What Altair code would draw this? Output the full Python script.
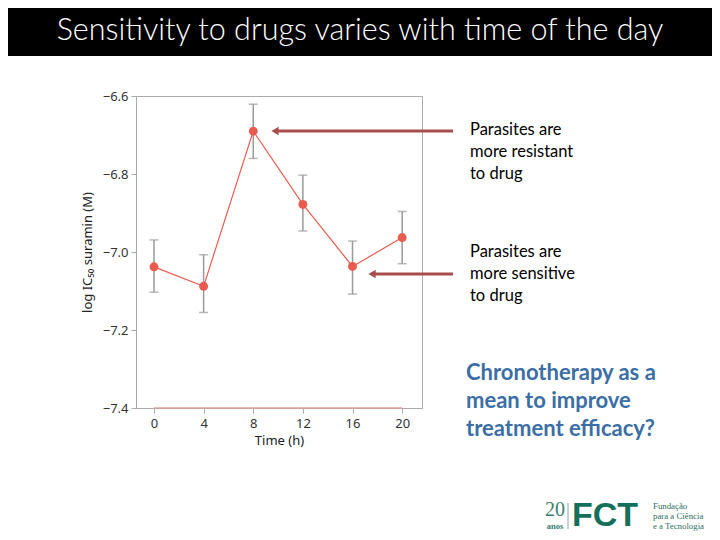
import altair as alt
import pandas as pd

# ---- data ----
hours = [0, 4, 8, 12, 16, 20]
ic50 = [-7.038, -7.088, -6.690, -6.878, -7.037, -6.963]
err_hi = [-6.969, -7.007, -6.621, -6.803, -6.972, -6.896]
err_lo = [-7.103, -7.155, -6.760, -6.946, -7.108, -7.030]
x_ticks = [0, 4, 8, 12, 16, 20]
y_ticks = [-7.4, -7.2, -7.0, -6.8, -6.6]
base_span = [0, 20]
base_level = -7.4

title_text = "Sensitivity to drugs varies with time of the day"
note_resistant = ["Parasites are", "more resistant", "to drug"]
note_sensitive = ["Parasites are", "more sensitive", "to drug"]
note_question = ["Chronotherapy as a", "mean to improve", "treatment efficacy?"]
logo_num = "20"
logo_anos = "anos"
logo_fct = "FCT"
logo_lines = ["Fundação", "para a Ciência", "e a Tecnologia"]

df = pd.DataFrame({"t": hours, "v": ic50, "hi": err_hi, "lo": err_lo})
base_df = pd.DataFrame({"a": [base_span[0]], "b": [base_span[1]], "y": [base_level]})
one = pd.DataFrame({"k": [0]})

W, H = 286, 312
red = "#E95B4E"
arrow_col = "#A54E4B"

xs = alt.Scale(domain=[-1.45, 21.6], nice=False, zero=False)
ys = alt.Scale(domain=[-7.4, -6.6], nice=False, zero=False)

x_axis = alt.Axis(values=x_ticks, title="Time (h)", grid=False, tickSize=5,
                  labelPadding=4, titlePadding=4)
y_axis = alt.Axis(values=y_ticks, format=".1f", title="log IC₅₀ suramin (M)",
                  grid=False, tickSize=5, labelPadding=3, titlePadding=8)

base = alt.Chart(df)

err_rule = base.mark_rule(color="#9a9a9a", strokeWidth=1.5).encode(
    x=alt.X("t:Q", scale=xs, axis=x_axis),
    y=alt.Y("lo:Q", scale=ys, axis=y_axis),
    y2="hi:Q",
)
cap_hi = base.mark_tick(color="#9a9a9a", orient="horizontal", size=9, thickness=1.5).encode(
    x=alt.X("t:Q", scale=xs), y=alt.Y("hi:Q", scale=ys))
cap_lo = base.mark_tick(color="#9a9a9a", orient="horizontal", size=9, thickness=1.5).encode(
    x=alt.X("t:Q", scale=xs), y=alt.Y("lo:Q", scale=ys))
line = base.mark_line(color=red, strokeWidth=1.2).encode(
    x=alt.X("t:Q", scale=xs), y=alt.Y("v:Q", scale=ys))
pts = base.mark_circle(color=red, size=80, opacity=1).encode(
    x=alt.X("t:Q", scale=xs), y=alt.Y("v:Q", scale=ys))
base_line = alt.Chart(base_df).mark_rule(color="#E3A09A", strokeWidth=1.5).encode(
    x=alt.X("a:Q", scale=xs), x2="b:Q", y=alt.Y("y:Q", scale=ys))

# ---- slide decorations (pixel positions relative to plot origin) ----
bar = alt.Chart(one).mark_rect(color="black").encode(
    x=alt.value(-140), x2=alt.value(600), y=alt.value(-100), y2=alt.value(-40))
title = alt.Chart(pd.DataFrame({"s": [title_text]})).mark_text(
    color="white", font="Lato", fontWeight=300, fontSize=30.5, align="center",
    baseline="middle").encode(x=alt.value(224), y=alt.value(-65), text="s:N")

def arrow(x_tip, x_end, y):
    r = alt.Chart(one).mark_rule(color=arrow_col, strokeWidth=3).encode(
        x=alt.value(x_tip + 5), x2=alt.value(x_end), y=alt.value(y))
    h = alt.Chart(one).mark_point(shape="triangle-left", filled=True, opacity=1,
                                  color=arrow_col, size=70, strokeWidth=0).encode(
        x=alt.value(x_tip + 4), y=alt.value(y))
    return r + h

arrow1 = arrow(135, 317, 35)
arrow2 = arrow(232, 317, 178)

def note(lines, x, y, size, color, weight, lh, font="Lato"):
    return alt.Chart(pd.DataFrame({"s": ["\n".join(lines)]})).mark_text(
        align="left", baseline="alphabetic", font=font, fontSize=size,
        fontWeight=weight, color=color, lineBreak="\n", lineHeight=lh).encode(
        x=alt.value(x), y=alt.value(y), text="s:N")

t1 = note(note_resistant, 334, 39, 16.5, "black", 400, 22)
t2 = note(note_sensitive, 334, 161, 16.5, "black", 400, 22)
t3 = note(note_question, 330, 284, 22, "#3B6EA5", 700, 28)

logo_green = "#14705B"
l20 = alt.Chart(pd.DataFrame({"s": [logo_num]})).mark_text(
    font="Liberation Serif", fontSize=20, color="#3C7F6E", align="center",
    baseline="alphabetic").encode(x=alt.value(419), y=alt.value(420), text="s:N")
lanos = alt.Chart(pd.DataFrame({"s": [logo_anos]})).mark_text(
    font="Liberation Serif", fontSize=8.5, fontWeight=700, color="#3C7F6E",
    align="center", baseline="alphabetic").encode(
    x=alt.value(419), y=alt.value(433), text="s:N")
lsep = alt.Chart(one).mark_rule(color="#8aa89f", strokeWidth=1).encode(
    x=alt.value(432), y=alt.value(407), y2=alt.value(433))
lfct = alt.Chart(pd.DataFrame({"s": [logo_fct]})).mark_text(
    font="Liberation Sans", fontSize=34, fontWeight=900, color=logo_green,
    align="left", baseline="alphabetic").encode(
    x=alt.value(436), y=alt.value(430), text="s:N")
lsmall = note(logo_lines, 517, 413, 8.8, "#2E6E60", 400, 10, font="Liberation Serif")

chart = alt.layer(
    bar, title, err_rule, cap_hi, cap_lo, base_line, line, pts,
    arrow1, arrow2, t1, t2, t3, l20, lanos, lsep, lfct, lsmall,
).properties(
    width=W, height=H,
    autosize=alt.AutoSizeParams(type="none"),
    padding={"left": 128, "top": 88, "right": 290, "bottom": 124},
).configure_view(
    stroke="#aaaaaa", strokeWidth=1
).configure_axis(
    domainColor="#aaaaaa", tickColor="#aaaaaa", labelFont="Noto Sans",
    titleFont="Noto Sans", labelFontSize=13, titleFontSize=13,
    labelColor="#333333", titleColor="#222222", titleFontWeight="normal",
)

chart.save("out.html", embed_options={"renderer": "svg", "actions": False})
